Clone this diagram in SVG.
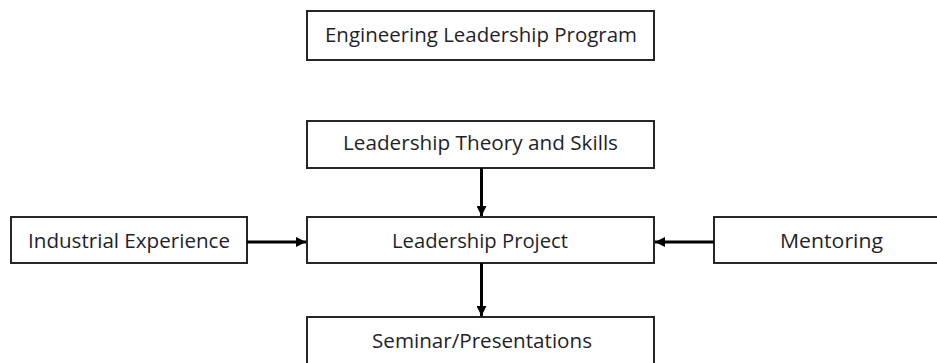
<svg xmlns="http://www.w3.org/2000/svg" width="937" height="363" viewBox="0 0 937 363">
  <style>
    .box { fill: #ffffff; stroke: #262626; stroke-width: 2; }
    .label { font-family: "Open Sans", "Liberation Sans", sans-serif; font-size: 20px; fill: #1f1f2a; text-anchor: middle; }
    .edge { stroke: #000000; stroke-width: 3; fill: none; }
  </style>
  <defs>
    <marker id="head" viewBox="0 0 10 10" refX="10" refY="5" markerWidth="10" markerHeight="10" markerUnits="userSpaceOnUse" orient="auto">
      <path d="M0,0 L10,5 L0,10 Z" fill="#000000"/>
    </marker>
  </defs>
  <rect width="937" height="363" fill="#ffffff"/>

  <g id="program">
    <rect class="box" x="307" y="11" width="347" height="49"/>
    <text class="label" x="481" y="42" textLength="312" lengthAdjust="spacingAndGlyphs">Engineering Leadership Program</text>
  </g>

  <g id="theory">
    <rect class="box" x="307" y="121" width="347" height="47"/>
    <text class="label" x="480.5" y="150" textLength="275" lengthAdjust="spacingAndGlyphs">Leadership Theory and Skills</text>
  </g>

  <g id="project">
    <rect class="box" x="307" y="217" width="347" height="46"/>
    <text class="label" x="480" y="248" textLength="176" lengthAdjust="spacingAndGlyphs">Leadership Project</text>
  </g>

  <g id="industrial">
    <rect class="box" x="11" y="217" width="236" height="46"/>
    <text class="label" x="129" y="248" textLength="202" lengthAdjust="spacingAndGlyphs">Industrial Experience</text>
  </g>

  <g id="mentoring">
    <rect class="box" x="714" y="217" width="236" height="46"/>
    <text class="label" x="831.5" y="248" textLength="103" lengthAdjust="spacingAndGlyphs">Mentoring</text>
  </g>

  <g id="seminar">
    <rect class="box" x="307" y="317" width="347" height="50"/>
    <text class="label" x="482" y="348" textLength="220" lengthAdjust="spacingAndGlyphs">Seminar/Presentations</text>
  </g>

  <g id="connectors">
    <line class="edge" x1="481.5" y1="168" x2="481.5" y2="216" marker-end="url(#head)"/>
    <line class="edge" x1="247" y1="242" x2="306" y2="242" marker-end="url(#head)"/>
    <line class="edge" x1="714" y1="242" x2="655" y2="242" marker-end="url(#head)"/>
    <line class="edge" x1="481.5" y1="263" x2="481.5" y2="316" marker-end="url(#head)"/>
  </g>
</svg>
